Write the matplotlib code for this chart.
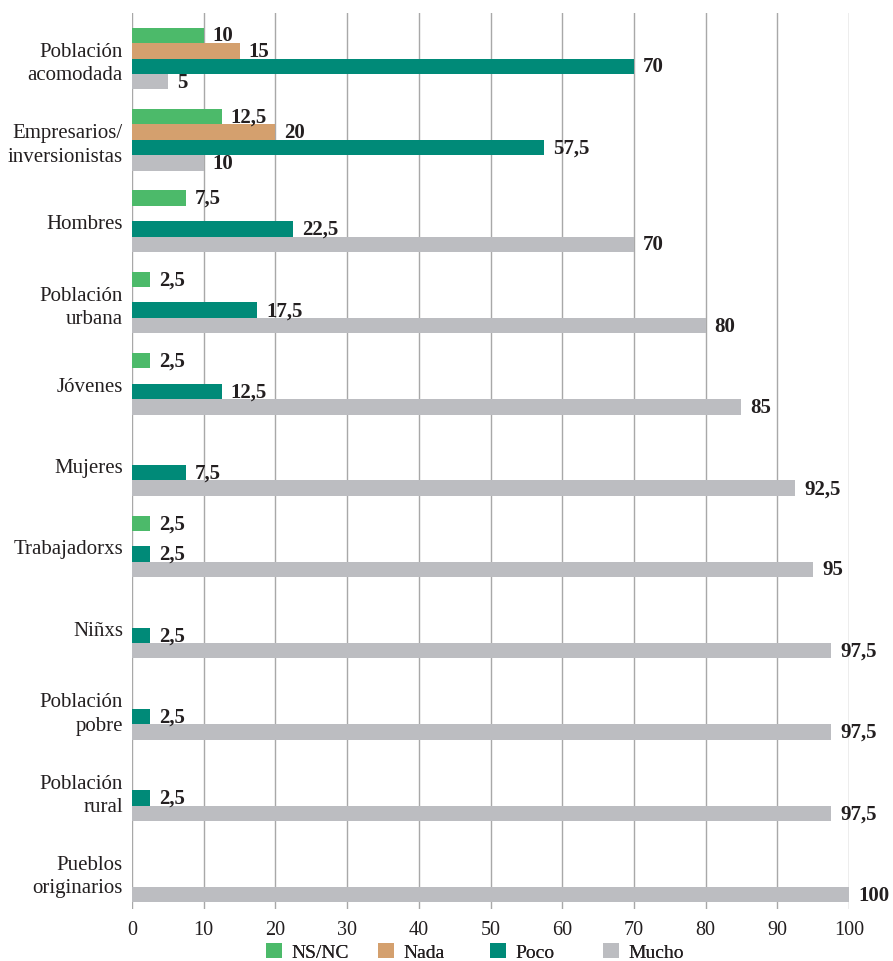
import matplotlib
matplotlib.use("Agg")
import matplotlib.pyplot as plt
from matplotlib.patches import Patch
import numpy as np

# Categories and percentage shares per answer
categories = ["Población\nacomodada", "Empresarios/\ninversionistas", "Hombres",
              "Población\nurbana", "Jóvenes", "Mujeres", "Trabajadorxs", "Niñxs",
              "Población\npobre", "Población\nrural", "Pueblos\noriginarios"]
series_names = ["NS/NC", "Nada", "Poco", "Mucho"]
nsnc = [10, 12.5, 7.5, 2.5, 2.5, 0, 2.5, 0, 0, 0, 0]
nada = [15, 20, 0, 0, 0, 0, 0, 0, 0, 0, 0]
poco = [70, 57.5, 22.5, 17.5, 12.5, 7.5, 2.5, 2.5, 2.5, 2.5, 0]
mucho = [5, 10, 70, 80, 85, 92.5, 95, 97.5, 97.5, 97.5, 100]
x_ticks = list(range(0, 101, 10))

colors = ["#4cba6a", "#d4a06e", "#008a78", "#bcbdc1"]
text_color = "#231f20"
serif = ["Liberation Serif", "DejaVu Serif"]

plt.rcParams["font.family"] = serif

fig = plt.figure(figsize=(8.93, 9.62), dpi=100)
ax = fig.add_axes([132 / 893, 1 - 910 / 962, 717 / 893, (910 - 14) / 962])

y = np.arange(len(categories))
bar_h = 0.1894
offsets = [-1.5 * bar_h, -0.5 * bar_h, 0.5 * bar_h, 1.5 * bar_h]

for values, off, col in zip([nsnc, nada, poco, mucho], offsets, colors):
    vals = np.array(values, dtype=float)
    bars = ax.barh(y + off, vals, height=bar_h, color=col, linewidth=0, zorder=2)
    for b, v in zip(bars, vals):
        if v > 0:
            label = f"{v:g}".replace(".", ",")
            ax.annotate(label, xy=(b.get_width(), b.get_y() + b.get_height() / 2),
                        xytext=(9, 0), textcoords="offset pixels",
                        ha="left", va="center", fontsize=15, fontweight="bold",
                        color=text_color, annotation_clip=False)

ax.set_xlim(0, 100)
ax.set_ylim(10.461, -0.5597)
ax.set_xticks(x_ticks)
ax.set_xticklabels([str(t) for t in x_ticks])
ax.set_yticks(y)
ax.set_yticklabels(categories, linespacing=1.3)
ax.tick_params(axis="x", length=0, pad=8, labelsize=14.5, colors=text_color)
ax.tick_params(axis="y", length=0, pad=6.5, labelsize=15, colors=text_color)

for s in ax.spines.values():
    s.set_visible(False)
ax.set_axisbelow(True)
ax.xaxis.grid(True, color="#a8a8a8", linewidth=1.0)
ax.yaxis.grid(False)

# Legend entries spaced evenly along the bottom
legend_x = [266, 378, 490, 603]
for name, col, lx in zip(series_names, colors, legend_x):
    leg = fig.legend(handles=[Patch(facecolor=col, edgecolor="none")], labels=[name],
                     loc="center left", bbox_to_anchor=(lx / 893, 1 - 953 / 962),
                     frameon=False, fontsize=14, handlelength=0.82, handleheight=0.8,
                     handletextpad=0.5, borderpad=0, borderaxespad=0)
    for t in leg.get_texts():
        t.set_color(text_color)
    fig.add_artist(leg)

fig.savefig("out.png", dpi=100)
